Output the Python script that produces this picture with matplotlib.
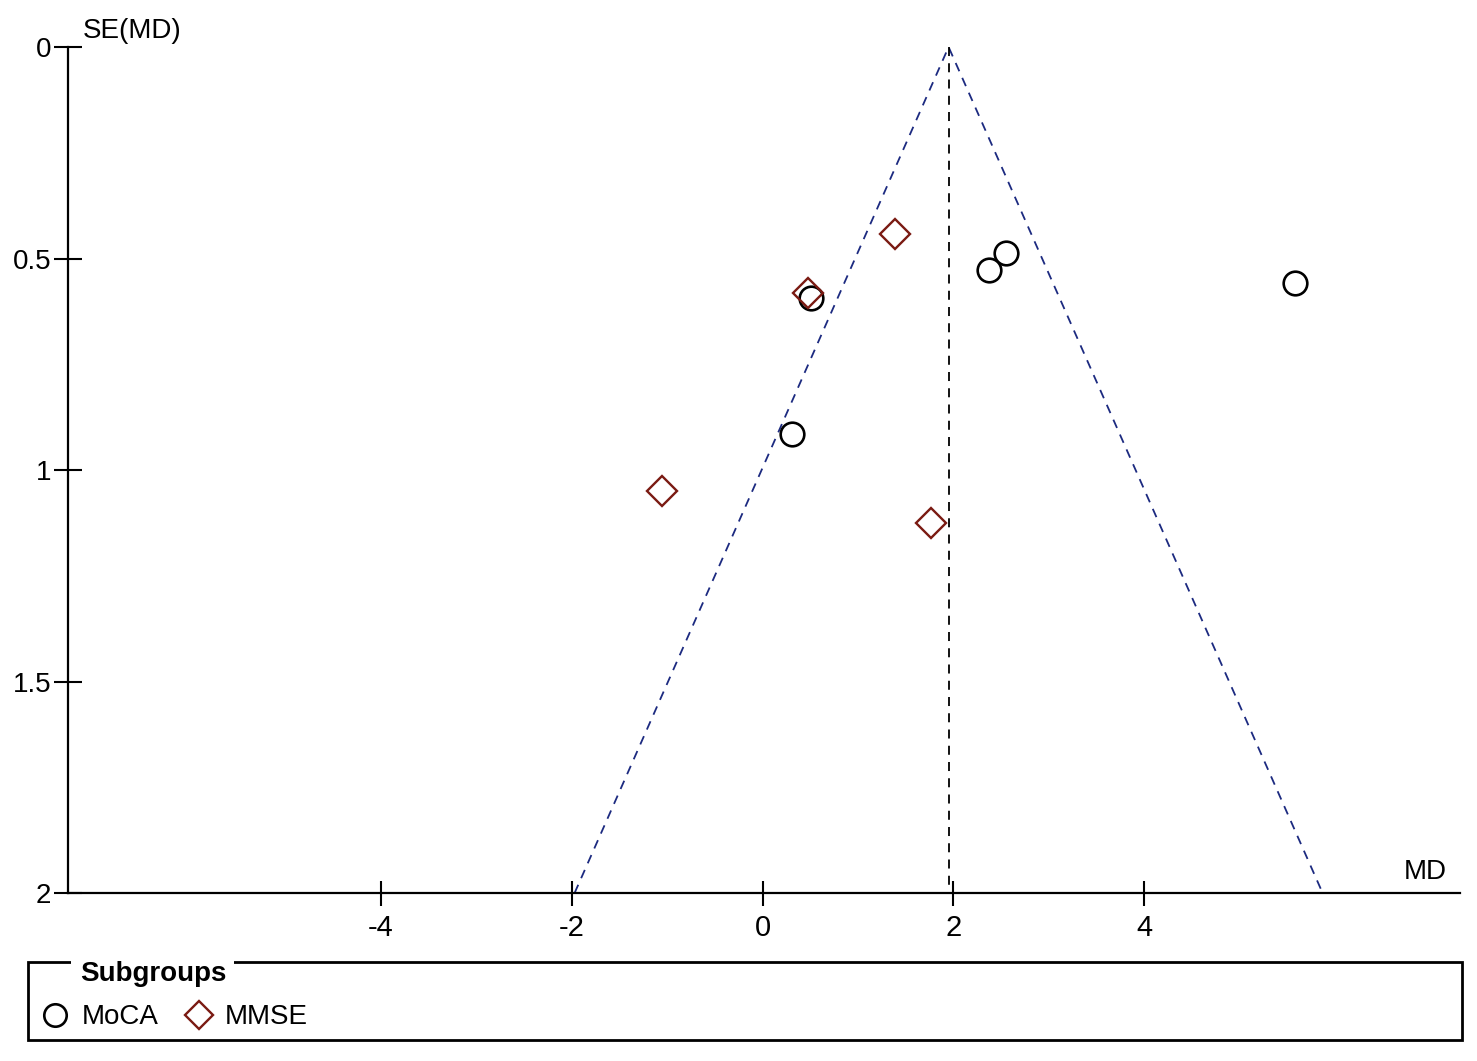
import numpy as np
from matplotlib import pyplot as plt
from matplotlib.patches import Rectangle

plt.rcParams['font.family'] = ['Liberation Sans', 'DejaVu Sans']
plt.rcParams['axes.unicode_minus'] = False

# pooled estimate (MD) and the studies
pooled_md = 1.95
moca_md = [5.58, 2.55, 2.37, 0.51, 0.31]
moca_se = [0.558, 0.487, 0.527, 0.593, 0.915]
mmse_md = [1.39, 0.48, -1.05, 1.77]
mmse_se = [0.442, 0.582, 1.050, 1.125]
x_ticks = [-4, -2, 0, 2, 4]
y_ticks = [0, 0.5, 1, 1.5, 2]

fig = plt.figure(figsize=(14.77, 10.61), dpi=100)
ax = fig.add_axes([0.046, 0.1583, 0.9425, 0.7974])

# funnel (95% pseudo limits)
se_max = 2.0
ax.plot([pooled_md - 1.96 * se_max, pooled_md, pooled_md + 1.96 * se_max],
        [se_max, 0, se_max], ls=(0, (5, 4)), color='#1c2a80', lw=1.3)
ax.plot([pooled_md, pooled_md], [0, se_max], ls=(0, (5, 4)), color='black', lw=1.3)

moca, = ax.plot(moca_md, moca_se, 'o', ms=17, mfc='none', mec='black', mew=1.9, ls='none')
mmse, = ax.plot(mmse_md, mmse_se, 'D', ms=15.5, mfc='none', mec='#7a1a12', mew=1.7, ls='none')

ax.set_xlim(-7.28, 7.31)
ax.set_ylim(2, 0)
ax.set_xticks(x_ticks)
ax.set_yticks(y_ticks)
ax.set_yticklabels(['0', '0.5', '1', '1.5', '2'])
for s in ['top', 'right']:
    ax.spines[s].set_visible(False)
ax.spines['left'].set_linewidth(1.6)
ax.spines['bottom'].set_linewidth(1.6)
ax.tick_params(axis='y', direction='inout', length=20, width=1.5, labelsize=20, pad=2)
ax.tick_params(axis='x', direction='inout', length=18, width=1.5, labelsize=21, pad=6)

ax.text(0.011, 1.004, 'SE(MD)', transform=ax.transAxes, fontsize=20, va='bottom', ha='left')
ax.text(0.975, 0.01, 'MD', transform=ax.transAxes, fontsize=20, va='bottom', ha='center')

# legend box
fig.add_artist(Rectangle((0.019, 0.0198), 0.971, 0.0735, transform=fig.transFigure,
                         fill=False, lw=2, ec='black'))
fig.text(0.054, 0.082, 'Subgroups', fontsize=20, fontweight='bold', va='center', ha='left',
         bbox=dict(fc='white', ec='none', pad=6))
fig.legend([moca, mmse], ['MoCA', 'MMSE'], loc='center left', bbox_to_anchor=(0.011, 0.041),
           ncol=2, frameon=False, fontsize=20, handlelength=1.0, handletextpad=0.45,
           columnspacing=0.95, markerscale=0.95)

fig.savefig('out.png', dpi=100)
